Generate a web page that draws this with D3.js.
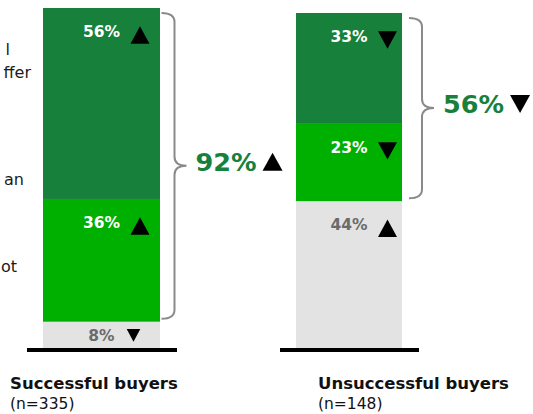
<!DOCTYPE html>
<html>
<head>
<meta charset="utf-8">
<script src="https://cdn.jsdelivr.net/npm/d3@7"></script>
<style>
  html, body { margin: 0; padding: 0; background: #ffffff; }
  svg { display: block; font-family: "DejaVu Sans", sans-serif; }
</style>
</head>
<body>
<svg id="chart" width="533" height="414"></svg>
<script>
// Buyer groups and their sample sizes
const groups = ["Successful buyers", "Unsuccessful buyers"];
const sampleSizes = ["(n=335)", "(n=148)"];

// Stacked shares, listed top segment first (percent)
const topShare = [56, 33];
const middleShare = [36, 23];
const bottomShare = [8, 44];

// Direction of change for each segment
const topTrend = ["up", "down"];
const middleTrend = ["up", "down"];
const bottomTrend = ["down", "up"];

// Combined share of the two green segments and its trend
const combinedShare = [92, 56];
const combinedTrend = ["up", "down"];

// Fragments of side annotations that run off the left edge
const sideNotes = ["l", "ffer", "an", "ot"];

// ---- layout ----
const W = 533, H = 414;
const baseY = 349;
const barTops = [8, 13];
const barWidths = [117, 106];
const notePos = [[10, 55], [31, 78], [24, 185], [17, 272]];

const colors = {
  top: "#17803b",
  middle: "#00b000",
  bottom: "#e3e3e3",
  bottomText: "#6b6b6b",
  brace: "#8a8a8a",
  total: "#17803b"
};

const svg = d3.select("#chart");

// horizontal placement of bar centres
const x = d3.scalePoint().domain(groups).range([101.5, 349]);

// one vertical scale per bar
const yScales = groups.map((g, i) =>
  d3.scaleLinear().domain([0, 100]).range([baseY, barTops[i]]));

function triPath(cx, cy, w, h, dir) {
  const p = d3.path();
  if (dir === "up") {
    p.moveTo(cx - w / 2, cy + h / 2);
    p.lineTo(cx + w / 2, cy + h / 2);
    p.lineTo(cx, cy - h / 2);
  } else {
    p.moveTo(cx - w / 2, cy - h / 2);
    p.lineTo(cx + w / 2, cy - h / 2);
    p.lineTo(cx, cy + h / 2);
  }
  p.closePath();
  return p.toString();
}

function bracePath(x0, xv, xt, y0, y1) {
  const r = 9;
  const ym = (y0 + y1) / 2;
  const p = d3.path();
  p.moveTo(x0, y0);
  p.quadraticCurveTo(xv, y0, xv, y0 + r);
  p.lineTo(xv, ym - r);
  p.quadraticCurveTo(xv, ym, xt, ym);
  p.quadraticCurveTo(xv, ym, xv, ym + r);
  p.lineTo(xv, y1 - r);
  p.quadraticCurveTo(xv, y1, x0, y1);
  return p.toString();
}

// side annotation fragments
svg.append("g").selectAll("text")
  .data(sideNotes)
  .join("text")
  .attr("x", (d, i) => notePos[i][0])
  .attr("y", (d, i) => notePos[i][1])
  .attr("text-anchor", "end")
  .attr("font-size", 16)
  .attr("fill", "#1a1a1a")
  .text(d => d);

groups.forEach((g, i) => {
  const y = yScales[i];
  const cx = x(g);
  const bw = barWidths[i];
  const left = cx - bw / 2;

  const segs = [
    { key: "bottom", v: bottomShare[i], trend: bottomTrend[i], base: 0 },
    { key: "middle", v: middleShare[i], trend: middleTrend[i], base: bottomShare[i] },
    { key: "top", v: topShare[i], trend: topTrend[i], base: bottomShare[i] + middleShare[i] }
  ];

  const gBar = svg.append("g");

  gBar.selectAll("rect")
    .data(segs)
    .join("rect")
    .attr("x", left)
    .attr("width", bw)
    .attr("y", d => y(d.base + d.v))
    .attr("height", d => y(d.base) - y(d.base + d.v))
    .attr("fill", d => colors[d.key]);

  segs.forEach(d => {
    const segTop = y(d.base + d.v);
    const segH = y(d.base) - segTop;
    const baseline = segTop + Math.min(29, segH / 2 + 6);
    const textMid = baseline - 6;
    gBar.append("text")
      .attr("x", cx)
      .attr("y", baseline)
      .attr("text-anchor", "middle")
      .attr("font-size", 15.5)
      .attr("font-weight", "bold")
      .attr("fill", d.key === "bottom" ? colors.bottomText : "#ffffff")
      .text(d.v + "%");
    const tw = Math.min(19, segH * 0.5);
    const th = tw * 0.92;
    const tcx = d.v < 10 ? cx + 32 : cx + 38.5;
    gBar.append("path")
      .attr("d", triPath(tcx, textMid + (d.v < 10 ? 0 : 4), tw, th, d.trend))
      .attr("fill", "#000000");
  });

  // baseline under the bar
  svg.append("rect")
    .attr("x", left - 16)
    .attr("width", bw + 33)
    .attr("y", baseY - 1)
    .attr("height", 4)
    .attr("fill", "#000000");

  // group name and sample size
  svg.append("text")
    .attr("x", i === 0 ? 10 : 318)
    .attr("y", 389)
    .attr("font-size", 16.5)
    .attr("font-weight", "bold")
    .attr("fill", "#111111")
    .text(g);
  svg.append("text")
    .attr("x", i === 0 ? 10 : 318)
    .attr("y", 409)
    .attr("font-size", 15.5)
    .attr("fill", "#111111")
    .text(sampleSizes[i]);

  // brace around the two green segments
  const y0 = y(100) + 5;
  const y1 = y(bottomShare[i]) - 3;
  const xv = cx + 73;
  const xt = cx + 85;
  svg.append("path")
    .attr("d", bracePath(cx + 60, xv, xt, y0, y1))
    .attr("fill", "none")
    .attr("stroke", colors.brace)
    .attr("stroke-width", 2);

  const ym = (y0 + y1) / 2;
  const total = svg.append("text")
    .attr("x", xt + 9)
    .attr("y", ym + 5)
    .attr("font-size", 25.5)
    .attr("font-weight", "bold")
    .attr("fill", colors.total)
    .text(combinedShare[i] + "%");
  const tb = total.node().getBBox();
  svg.append("path")
    .attr("d", triPath(tb.x + tb.width + 16, ym - 4, 20, 18, combinedTrend[i]))
    .attr("fill", "#000000");
});
</script>
</body>
</html>
